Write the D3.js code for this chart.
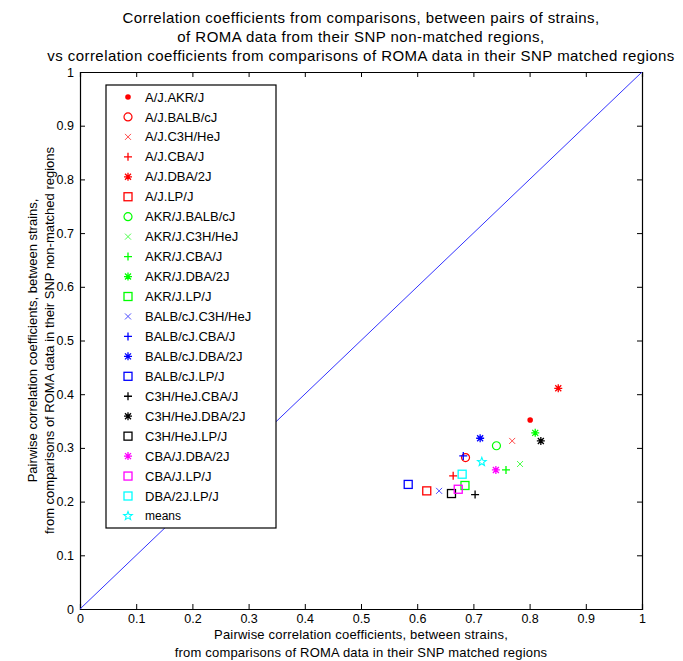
<!DOCTYPE html>
<html>
<head>
<meta charset="utf-8">
<script src="https://cdn.jsdelivr.net/npm/d3@7"></script>
<style>
  body { margin: 0; background: #fff; }
  svg { font-family: "Liberation Sans", Arial, sans-serif; }
</style>
</head>
<body>
<div id="chart"></div>
<script>
// pairs of strains, one point each (last one is the means)
var pairNames = [
    "A/J.AKR/J", "A/J.BALB/cJ", "A/J.C3H/HeJ", "A/J.CBA/J", "A/J.DBA/2J", "A/J.LP/J",
    "AKR/J.BALB/cJ", "AKR/J.C3H/HeJ", "AKR/J.CBA/J", "AKR/J.DBA/2J", "AKR/J.LP/J",
    "BALB/cJ.C3H/HeJ", "BALB/cJ.CBA/J", "BALB/cJ.DBA/2J", "BALB/cJ.LP/J",
    "C3H/HeJ.CBA/J", "C3H/HeJ.DBA/2J", "C3H/HeJ.LP/J",
    "CBA/J.DBA/2J", "CBA/J.LP/J", "DBA/2J.LP/J", "means"
];
var pairMarkers = [
    "dot", "circle", "x", "plus", "star", "square",
    "circle", "x", "plus", "star", "square",
    "x", "plus", "star", "square",
    "plus", "star", "square",
    "star", "square", "square", "pentagram"
];
var pairColors = [
    "#ff0000", "#ff0000", "#ff0000", "#ff0000", "#ff0000", "#ff0000",
    "#00ff00", "#00ff00", "#00ff00", "#00ff00", "#00ff00",
    "#0000ff", "#0000ff", "#0000ff", "#0000ff",
    "#000000", "#000000", "#000000",
    "#ff00ff", "#ff00ff", "#00ffff", "#00ffff"
];
// SNP matched regions (x)
var matchedCorr = [
    0.801, 0.686, 0.769, 0.664, 0.851, 0.617,
    0.741, 0.783, 0.758, 0.810, 0.685,
    0.639, 0.682, 0.712, 0.584,
    0.703, 0.820, 0.661,
    0.740, 0.673, 0.680, 0.715
];
// SNP non-matched regions (y)
var nonMatchedCorr = [
    0.352, 0.282, 0.313, 0.248, 0.411, 0.220,
    0.304, 0.270, 0.259, 0.328, 0.230,
    0.220, 0.285, 0.318, 0.232,
    0.213, 0.313, 0.215,
    0.259, 0.223, 0.251, 0.274
];
var tickValues = [0, 0.1, 0.2, 0.3, 0.4, 0.5, 0.6, 0.7, 0.8, 0.9, 1];
var titleLines = [
    "Correlation coefficients from comparisons, between pairs of strains,",
    "of  ROMA  data from their SNP non-matched regions,",
    "vs correlation coefficients from comparisons of  ROMA data in their SNP matched regions"
];
var xLabelLines = [
    "Pairwise correlation coefficients, between strains,",
    "from comparisons of  ROMA data in their SNP matched regions"
];
var yLabelLines = [
    "Pairwise correlation coefficients, between strains,",
    "from comparisons of ROMA  data in their SNP non-matched regions"
];

var width = 683, height = 661;
var margin = {top: 72, right: 41, bottom: 52, left: 80};
var plotW = width - margin.left - margin.right;
var plotH = height - margin.top - margin.bottom;

var svg = d3.select("#chart").append("svg")
    .attr("width", width)
    .attr("height", height)
    .style("white-space", "pre");

var x = d3.scaleLinear().domain([0, 1]).range([margin.left, margin.left + plotW]);
var y = d3.scaleLinear().domain([0, 1]).range([margin.top + plotH, margin.top]);

// axes, ticks inward on all four sides
var tickLen = 5;
svg.append("g")
    .attr("transform", `translate(0, ${margin.top + plotH})`)
    .call(d3.axisBottom(x).tickValues(tickValues).tickSize(-tickLen).tickPadding(5)
        .tickFormat(d3.format("~g")));
svg.append("g")
    .attr("transform", `translate(0, ${margin.top})`)
    .call(d3.axisTop(x).tickValues(tickValues).tickSize(-tickLen).tickFormat(""));
svg.append("g")
    .attr("transform", `translate(${margin.left}, 0)`)
    .call(d3.axisLeft(y).tickValues(tickValues).tickSize(-tickLen).tickPadding(6)
        .tickFormat(d3.format("~g")));
svg.append("g")
    .attr("transform", `translate(${margin.left + plotW}, 0)`)
    .call(d3.axisRight(y).tickValues(tickValues).tickSize(-tickLen).tickFormat(""));
svg.selectAll(".domain").attr("stroke", "#000").attr("stroke-width", 1.2);
svg.selectAll(".tick line").attr("stroke", "#000");
svg.selectAll(".tick text").style("font-size", "12.5px").attr("fill", "#000");

// y = x reference line
svg.append("line")
    .attr("x1", x(0)).attr("y1", y(0))
    .attr("x2", x(1)).attr("y2", y(1))
    .attr("stroke", "#3333ff")
    .attr("stroke-width", 1);

function drawMarker(g, kind, color) {
    var s = 4;
    if (kind == "dot") {
        g.append("circle").attr("r", 2.8).attr("fill", color);
    } else if (kind == "circle") {
        g.append("circle").attr("r", 4).attr("fill", "none").attr("stroke", color).attr("stroke-width", 1.2);
    } else if (kind == "square") {
        g.append("rect").attr("x", -4).attr("y", -4).attr("width", 8).attr("height", 8)
            .attr("fill", "none").attr("stroke", color).attr("stroke-width", 1.3);
    } else if (kind == "pentagram") {
        var pts = [];
        for (var i = 0; i < 10; i++) {
            var r = i % 2 == 0 ? 4.5 : 1.9;
            var a = -Math.PI / 2 + i * Math.PI / 5;
            pts.push([r * Math.cos(a), r * Math.sin(a)]);
        }
        g.append("polygon").attr("points", pts.map(p => p.join(",")).join(" "))
            .attr("fill", "none").attr("stroke", color).attr("stroke-width", 1.1);
    } else {
        var path = "";
        if (kind == "plus" || kind == "star") path += `M${-s},0H${s}M0,${-s}V${s}`;
        if (kind == "x") path += `M${-3},${-3}L3,3M${-3},3L3,${-3}`;
        if (kind == "star") path += `M${-3},${-3}L3,3M${-3},3L3,${-3}`;
        g.append("path").attr("d", path).attr("stroke", color)
            .attr("stroke-width", kind == "x" ? 1 : 1.3)
            .attr("opacity", kind == "x" ? 0.7 : 1);
    }
}

// points
var points = svg.append("g");
pairNames.forEach(function(name, i) {
    var g = points.append("g")
        .attr("transform", `translate(${x(matchedCorr[i])}, ${y(nonMatchedCorr[i])})`);
    drawMarker(g, pairMarkers[i], pairColors[i]);
});

// legend
var legendX = 106, legendY = 85, legendW = 170, legendH = 443, rowH = 19.95;
var legend = svg.append("g");
legend.append("rect")
    .attr("x", legendX).attr("y", legendY)
    .attr("width", legendW).attr("height", legendH)
    .attr("fill", "#fff").attr("stroke", "#000").attr("stroke-width", 1.2);
pairNames.forEach(function(name, i) {
    var ly = legendY + 12 + i * rowH;
    var g = legend.append("g").attr("transform", `translate(128, ${ly})`);
    drawMarker(g, pairMarkers[i], pairColors[i]);
    legend.append("text")
        .attr("x", 145).attr("y", ly)
        .attr("dy", "0.35em")
        .style("font-size", name == "means" ? "12px" : "13px")
        .text(name);
});

// titles
var title = svg.append("g");
titleLines.forEach(function(line, i) {
    title.append("text")
        .attr("x", margin.left + plotW / 2)
        .attr("y", 18 + i * 19)
        .attr("dy", "0.35em")
        .attr("text-anchor", "middle")
        .style("font-size", "15px")
        .style("letter-spacing", "0.45px")
        .text(line);
});
xLabelLines.forEach(function(line, i) {
    svg.append("text")
        .attr("x", margin.left + plotW / 2)
        .attr("y", 634 + i * 18)
        .attr("dy", "0.35em")
        .attr("text-anchor", "middle")
        .style("font-size", "13px")
        .style("letter-spacing", "0.2px")
        .text(line);
});
yLabelLines.forEach(function(line, i) {
    svg.append("text")
        .attr("transform", `translate(${32 + i * 17}, ${margin.top + plotH / 2}) rotate(-90)`)
        .attr("dy", "0.35em")
        .attr("text-anchor", "middle")
        .style("font-size", "13px")
        .text(line);
});
</script>
</body>
</html>
